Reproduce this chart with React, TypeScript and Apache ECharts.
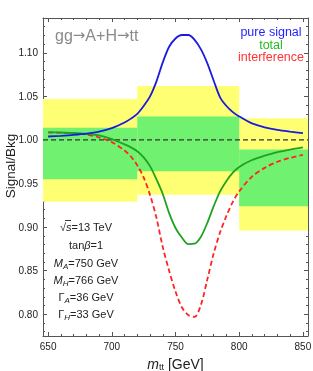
import React, { useEffect, useRef } from "react";
import * as echarts from "echarts";

// ---- data ----
const massGeV = [650, 660, 670, 680, 690, 700, 710, 715, 720, 725, 730, 735, 740, 745, 750, 755, 760, 765, 770, 775, 780, 785, 790, 795, 800, 810, 820, 830, 840, 850];
const pureSignal = [1.004, 1.0048, 1.0058, 1.0072, 1.0095, 1.0135, 1.02, 1.0245, 1.03, 1.039, 1.05, 1.067, 1.089, 1.107, 1.1165, 1.1205, 1.1205, 1.115, 1.104, 1.088, 1.068, 1.049, 1.039, 1.032, 1.027, 1.019, 1.0145, 1.0115, 1.0095, 1.0078];
const totalRatio = [1.009, 1.0086, 1.008, 1.007, 1.0052, 1.001, 0.995, 0.9915, 0.987, 0.98, 0.97, 0.955, 0.938, 0.916, 0.899, 0.888, 0.8805, 0.881, 0.889, 0.905, 0.924, 0.941, 0.953, 0.9625, 0.969, 0.977, 0.982, 0.986, 0.989, 0.9915];
const interferenceRatio = [1.0085, 1.0082, 1.0076, 1.0063, 1.003, 0.9975, 0.988, 0.981, 0.971, 0.957, 0.937, 0.911, 0.877, 0.85, 0.826, 0.808, 0.799, 0.797, 0.811, 0.84, 0.87, 0.894, 0.913, 0.929, 0.941, 0.958, 0.968, 0.975, 0.9795, 0.983];

// plot range (with the reference's padding round 650–850)
const X_MIN = 646;
const X_MAX = 854;
const Y_MIN = 0.775;
const Y_MAX = 1.14;

const binEdges = [X_MIN, 720, 800, X_MAX];
const yellowLow = [0.929, 0.937, 0.896];
const yellowHigh = [1.047, 1.062, 1.025];
const greenLow = [0.955, 0.964, 0.924];
const greenHigh = [1.014, 1.027, 0.989];

const unity = 1;
const xTickLabels = [650, 700, 750, 800, 850];
const yTickLabels = [0.8, 0.85, 0.9, 0.95, 1.0, 1.05, 1.1];

const xMinor: number[] = [];
for (let v = 650; v <= 850; v += 10) xMinor.push(v);
const yMinor: number[] = [];
for (let k = 78; k <= 113; k++) yMinor.push(k / 100);

const FONT = "'Liberation Sans', Arial, sans-serif";
const FRAME = "#555";

function xAx(position: string, major: boolean, labels: boolean, extra: any = {}) {
  return {
    type: "value",
    min: X_MIN,
    max: X_MAX,
    position,
    axisLine: { show: major, onZero: false, lineStyle: { color: FRAME, width: 1 } },
    axisTick: {
      show: true,
      inside: true,
      length: major ? 4 : 2,
      customValues: major ? xTickLabels : xMinor,
      lineStyle: { color: FRAME, width: 1 },
    },
    axisLabel: labels
      ? { show: true, customValues: xTickLabels, fontSize: 10, color: "#222", margin: 5, fontFamily: FONT }
      : { show: false },
    splitLine: { show: false },
    ...extra,
  };
}

function yAx(position: string, major: boolean, labels: boolean, extra: any = {}) {
  return {
    type: "value",
    min: Y_MIN,
    max: Y_MAX,
    position,
    axisLine: { show: major, onZero: false, lineStyle: { color: FRAME, width: 1 } },
    axisTick: {
      show: true,
      inside: true,
      length: major ? 4 : 2,
      customValues: major ? yTickLabels : yMinor,
      lineStyle: { color: FRAME, width: 1 },
    },
    axisLabel: labels
      ? {
          show: true,
          customValues: yTickLabels,
          fontSize: 10,
          color: "#222",
          margin: 5,
          fontFamily: FONT,
          formatter: (v: number) => v.toFixed(2),
        }
      : { show: false },
    splitLine: { show: false },
    ...extra,
  };
}

export default function App() {
  const ref = useRef<HTMLDivElement>(null);

  useEffect(() => {
    if (!ref.current) return;
    const chart = echarts.init(ref.current, undefined, { renderer: "svg" });

    const bands: any[] = [];
    for (let i = 0; i < binEdges.length - 1; i++) {
      bands.push([binEdges[i], binEdges[i + 1], yellowLow[i], yellowHigh[i], 0]);
    }
    for (let i = 0; i < binEdges.length - 1; i++) {
      bands.push([binEdges[i], binEdges[i + 1], greenLow[i], greenHigh[i], 1]);
    }
    const bandColors = ["#ffff73", "#70f270"];

    const sub = { fontSize: 8, lineHeight: 8, verticalAlign: "bottom", fontStyle: "italic", fontFamily: FONT, fill: "#222" };
    const annRich = {
      i: { fontStyle: "italic", fontSize: 11, lineHeight: 15, fontFamily: FONT, fill: "#222" },
      sub,
    };
    const annLine = (text: string, y: number) => ({
      type: "text",
      x: 86,
      y,
      style: {
        text,
        fill: "#222",
        fontSize: 11,
        lineHeight: 15,
        fontFamily: FONT,
        align: "center",
        verticalAlign: "middle",
        rich: annRich,
      },
    });
    const legendLine = (text: string, y: number, fill: string) => ({
      type: "text",
      x: 271,
      y,
      style: { text, fill, fontSize: 12.5, lineHeight: 12, fontFamily: FONT, align: "center", verticalAlign: "middle" },
    });

    chart.setOption({
      animation: false,
      grid: { left: 43, right: 5, top: 18, bottom: 35, containLabel: false, outerBoundsMode: "none" },
      xAxis: [
        xAx("bottom", true, true, {
          name: "{i|m}{s|tt} [GeV]",
          nameLocation: "middle",
          nameGap: 14,
          nameTextStyle: {
            fontSize: 14,
            color: "#222",
            fontFamily: FONT,
            lineHeight: 16,
            rich: {
              i: { fontStyle: "italic", fontSize: 14, lineHeight: 16, fontFamily: FONT, color: "#222" },
              s: { fontSize: 9, lineHeight: 9, verticalAlign: "bottom", fontFamily: FONT, color: "#222" },
            },
          },
        }),
        xAx("bottom", false, false),
        xAx("top", true, false),
        xAx("top", false, false),
      ],
      yAxis: [
        yAx("left", true, true),
        yAx("left", false, false),
        yAx("right", true, false),
        yAx("right", false, false),
      ],
      series: [
        {
          type: "custom",
          name: "bands",
          z: 1,
          clip: true,
          data: bands,
          renderItem: (params: any, api: any) => {
            const p0 = api.coord([api.value(0), api.value(3)]);
            const p1 = api.coord([api.value(1), api.value(2)]);
            return {
              type: "rect",
              shape: { x: p0[0], y: p0[1], width: p1[0] - p0[0], height: p1[1] - p0[1] },
              style: { fill: bandColors[api.value(4)], stroke: "none" },
            };
          },
        },
        {
          type: "line",
          name: "reference",
          z: 2,
          data: [
            [X_MIN, unity],
            [X_MAX, unity],
          ],
          showSymbol: false,
          lineStyle: { color: "#333", width: 1.2, type: [5, 3] },
        },
        {
          type: "line",
          name: "interference",
          z: 3,
          data: massGeV.map((m, i) => [m, interferenceRatio[i]]),
          smooth: 0.3,
          showSymbol: false,
          lineStyle: { color: "#ff2424", width: 1.8, type: [5, 3] },
        },
        {
          type: "line",
          name: "total",
          z: 4,
          data: massGeV.map((m, i) => [m, totalRatio[i]]),
          smooth: 0.3,
          showSymbol: false,
          lineStyle: { color: "#1fa31f", width: 1.8 },
        },
        {
          type: "line",
          name: "pure signal",
          z: 5,
          data: massGeV.map((m, i) => [m, pureSignal[i]]),
          smooth: 0.3,
          showSymbol: false,
          lineStyle: { color: "#1a1ae0", width: 1.8 },
        },
      ],
      graphic: [
        {
          type: "text",
          x: 10,
          y: 166,
          rotation: Math.PI / 2,
          style: {
            text: "Signal/Bkg",
            fill: "#222",
            fontSize: 13.5,
            fontFamily: FONT,
            align: "center",
            verticalAlign: "middle",
          },
        },
        {
          type: "text",
          x: 55,
          y: 35,
          style: {
            text: "gg{a|→}A+H{a|→}tt",
            fill: "#8a8a8a",
            fontSize: 16,
            fontFamily: FONT,
            align: "left",
            verticalAlign: "middle",
            rich: { a: { fontFamily: "'DejaVu Sans', sans-serif", fontSize: 15, fill: "#8a8a8a" } },
          },
        },
        legendLine("pure signal", 32, "#1f1fff"),
        legendLine("total", 44.5, "#22bb22"),
        legendLine("interference", 57, "#ff3333"),
        annLine("√{i|s}=13 TeV", 227),
        {
          type: "line",
          shape: { x1: 65, y1: 220.5, x2: 71, y2: 220.5 },
          style: { stroke: "#222", lineWidth: 0.9 },
        },
        annLine("tan{i|β}=1", 245),
        annLine("{i|M}{sub|A}=750 GeV", 262.5),
        annLine("{i|M}{sub|H}=766 GeV", 280),
        annLine("Γ{sub|A}=36 GeV", 297),
        annLine("Γ{sub|H}=33 GeV", 314),
      ],
    });

    return () => chart.dispose();
  }, []);

  return <div ref={ref} style={{ position: "fixed", left: 0, top: 0, width: 313, height: 371 }} />;
}
